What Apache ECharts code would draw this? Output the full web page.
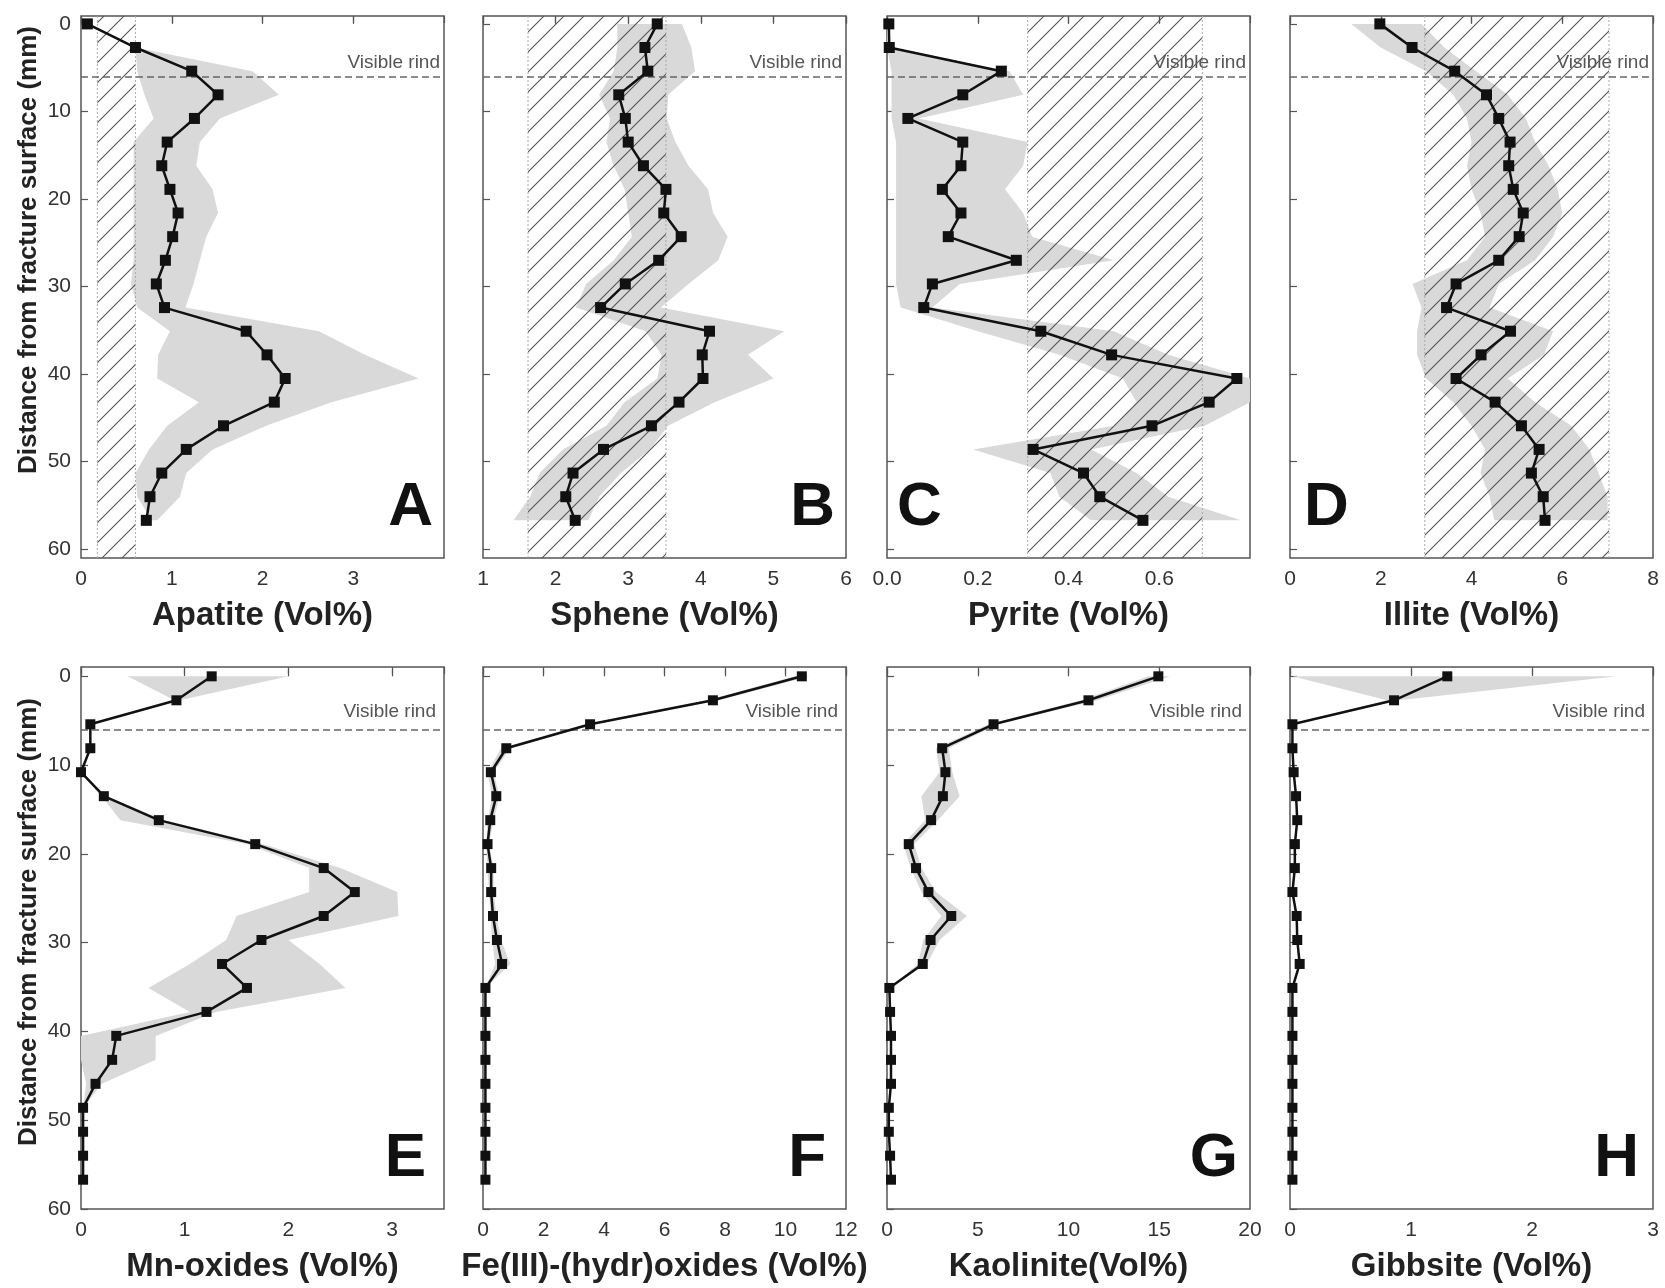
<!DOCTYPE html>
<html><head><meta charset="utf-8">
<script src="https://cdn.jsdelivr.net/npm/echarts@6/dist/echarts.min.js"></script>
<style>html,body{margin:0;padding:0;background:#fff}#c{width:1665px;height:1288px}</style>
</head><body><div id="c"></div>
<script>
// ---------------- DATA ----------------
const depth = [0, 2.7, 5.4, 8.1, 10.8, 13.5, 16.2, 18.9, 21.6, 24.3, 27, 29.7, 32.4, 35.1, 37.8, 40.5, 43.2, 45.9, 48.6, 51.3, 54, 56.7];
const yTicks = [0, 10, 20, 30, 40, 50, 60];
const rindDepth = 6;

const apatite   = [0.07, 0.60, 1.22, 1.51, 1.25, 0.95, 0.89, 0.98, 1.07, 1.01, 0.93, 0.83, 0.92, 1.82, 2.05, 2.25, 2.13, 1.57, 1.16, 0.89, 0.76, 0.72];
const apatiteLo = [0.07, 0.60, 0.62, 0.70, 0.80, 0.58, 0.58, 0.58, 0.58, 0.58, 0.58, 0.55, 0.62, 0.98, 0.85, 0.84, 1.30, 0.95, 0.75, 0.60, 0.62, 0.78];
const apatiteHi = [0.07, 0.60, 1.89, 2.18, 1.53, 1.31, 1.27, 1.45, 1.51, 1.38, 1.31, 1.24, 1.15, 2.62, 3.13, 3.72, 2.76, 2.04, 1.45, 1.16, 1.09, 0.84];
const hatchA = [0.18, 0.60];

const sphene   = [3.40, 3.23, 3.27, 2.87, 2.96, 3.00, 3.21, 3.52, 3.49, 3.73, 3.42, 2.96, 2.62, 4.12, 4.02, 4.03, 3.70, 3.32, 2.66, 2.24, 2.14, 2.27];
const spheneLo = [2.85, 2.85, 2.80, 2.60, 2.75, 2.70, 2.80, 2.95, 3.00, 3.05, 2.80, 2.42, 2.28, 3.24, 3.46, 3.40, 2.95, 2.70, 2.10, 1.78, 1.65, 1.42];
const spheneHi = [3.74, 3.87, 3.92, 3.55, 3.53, 3.65, 3.83, 4.10, 4.17, 4.37, 4.24, 3.83, 3.45, 5.15, 4.65, 5.00, 4.19, 3.55, 3.30, 2.90, 2.60, 2.45];
const hatchB = [1.62, 3.52];

const pyrite   = [0.004, 0.005, 0.252, 0.167, 0.046, 0.167, 0.163, 0.122, 0.163, 0.135, 0.285, 0.100, 0.081, 0.339, 0.495, 0.771, 0.710, 0.584, 0.322, 0.433, 0.469, 0.564];
const pyriteLo = [0.000, 0.000, 0.010, 0.010, 0.010, 0.020, 0.020, 0.020, 0.020, 0.020, 0.020, 0.020, 0.030, 0.200, 0.380, 0.520, 0.550, 0.500, 0.190, 0.360, 0.380, 0.450];
const pyriteHi = [0.005, 0.005, 0.270, 0.300, 0.070, 0.310, 0.300, 0.260, 0.300, 0.320, 0.500, 0.160, 0.100, 0.500, 0.620, 0.800, 0.800, 0.700, 0.450, 0.550, 0.620, 0.780];
const hatchC = [0.31, 0.695];

const illite   = [1.98, 2.69, 3.63, 4.33, 4.60, 4.85, 4.82, 4.92, 5.14, 5.05, 4.60, 3.66, 3.45, 4.86, 4.21, 3.66, 4.52, 5.10, 5.49, 5.32, 5.58, 5.62];
const illiteLo = [1.35, 2.00, 3.00, 3.60, 3.90, 4.00, 3.90, 4.00, 4.20, 4.30, 3.90, 2.70, 2.90, 2.80, 2.80, 3.00, 3.60, 4.00, 4.30, 4.20, 4.40, 4.50];
const illiteHi = [2.90, 3.40, 4.10, 4.80, 5.20, 5.40, 5.70, 5.90, 6.00, 5.80, 5.40, 4.60, 4.40, 5.80, 5.60, 4.80, 5.40, 6.20, 6.60, 6.80, 7.00, 7.00];
const hatchD = [2.97, 7.03];

const mnOx   = [1.26, 0.92, 0.09, 0.09, 0.00, 0.22, 0.75, 1.68, 2.34, 2.64, 2.34, 1.74, 1.36, 1.60, 1.21, 0.34, 0.30, 0.14, 0.02, 0.02, 0.02, 0.02];
const mnOxLo = [0.45, 0.90, 0.09, 0.09, 0.00, 0.20, 0.38, 1.60, 2.20, 2.20, 1.50, 1.40, 1.05, 0.65, 1.05, 0.00, 0.00, 0.05, 0.02, 0.02, 0.02, 0.02];
const mnOxHi = [2.00, 0.95, 0.09, 0.09, 0.00, 0.25, 0.80, 1.75, 2.50, 3.05, 3.06, 2.00, 2.30, 2.55, 1.30, 0.72, 0.72, 0.20, 0.02, 0.02, 0.02, 0.02];

const feOx   = [10.54, 7.60, 3.54, 0.77, 0.26, 0.44, 0.24, 0.15, 0.27, 0.27, 0.33, 0.46, 0.63, 0.08, 0.08, 0.08, 0.08, 0.08, 0.08, 0.08, 0.08, 0.08];
const feOxLo = [10.30, 7.40, 3.40, 0.60, 0.15, 0.30, 0.15, 0.10, 0.15, 0.20, 0.25, 0.30, 0.40, 0.08, 0.08, 0.08, 0.08, 0.08, 0.08, 0.08, 0.08, 0.08];
const feOxHi = [10.80, 7.80, 3.70, 0.90, 0.35, 0.55, 0.35, 0.20, 0.35, 0.35, 0.45, 0.60, 0.90, 0.08, 0.08, 0.08, 0.08, 0.08, 0.08, 0.08, 0.08, 0.08];

const kaolinite   = [14.95, 11.10, 5.87, 3.04, 3.22, 3.08, 2.43, 1.20, 1.60, 2.28, 3.54, 2.40, 1.97, 0.13, 0.17, 0.22, 0.22, 0.22, 0.10, 0.10, 0.17, 0.22];
const kaoliniteLo = [14.40, 10.70, 5.60, 2.70, 2.90, 1.90, 2.10, 0.90, 1.30, 1.90, 3.00, 2.00, 1.70, 0.13, 0.17, 0.22, 0.22, 0.22, 0.10, 0.10, 0.17, 0.22];
const kaoliniteHi = [15.60, 11.60, 6.10, 3.40, 3.60, 4.00, 2.80, 1.50, 1.90, 2.70, 4.40, 2.90, 2.20, 0.13, 0.17, 0.22, 0.22, 0.22, 0.10, 0.10, 0.17, 0.22];

const gibbsite   = [1.30, 0.86, 0.02, 0.02, 0.03, 0.05, 0.06, 0.04, 0.04, 0.02, 0.055, 0.06, 0.08, 0.02, 0.02, 0.02, 0.02, 0.02, 0.02, 0.02, 0.02, 0.02];
const gibbsiteLo = [0.02, 0.80, 0.02, 0.02, 0.03, 0.05, 0.06, 0.04, 0.04, 0.02, 0.055, 0.06, 0.08, 0.02, 0.02, 0.02, 0.02, 0.02, 0.02, 0.02, 0.02, 0.02];
const gibbsiteHi = [2.70, 0.90, 0.02, 0.02, 0.03, 0.05, 0.06, 0.04, 0.04, 0.02, 0.055, 0.06, 0.08, 0.02, 0.02, 0.02, 0.02, 0.02, 0.02, 0.02, 0.02, 0.02];

const titles = ['Apatite (Vol%)', 'Sphene (Vol%)', 'Pyrite (Vol%)', 'Illite (Vol%)',
                'Mn-oxides (Vol%)', 'Fe(III)-(hydr)oxides (Vol%)', 'Kaolinite(Vol%)', 'Gibbsite (Vol%)'];
const letters = ['A', 'B', 'C', 'D', 'E', 'F', 'G', 'H'];
const yTitle = 'Distance from fracture surface (mm)';

// ---------------- LAYOUT / STYLE ----------------
const FONT = '"Liberation Sans", Arial, sans-serif';
const colLeft = [81, 483, 887, 1290];
const gridW = 363, gridH = 542;
const rowTop = [16, 667];
const rowYMin = [-0.9, -1.05], rowYMax = [61, 60];

const panels = [
  {v: apatite,   lo: apatiteLo,   hi: apatiteHi,   min: 0, max: 4,   step: 1,   hatch: hatchA, hideMax: true,  side: 'right', inset: 11},
  {v: sphene,    lo: spheneLo,    hi: spheneHi,    min: 1, max: 6,   step: 1,   hatch: hatchB, hideMax: false, side: 'right', inset: 11},
  {v: pyrite,    lo: pyriteLo,    hi: pyriteHi,    min: 0, max: 0.8, step: 0.2, hatch: hatchC, hideMax: true,  side: 'left',  inset: 10, fixed: 1},
  {v: illite,    lo: illiteLo,    hi: illiteHi,    min: 0, max: 8,   step: 2,   hatch: hatchD, hideMax: false, side: 'left',  inset: 14},
  {v: mnOx,      lo: mnOxLo,      hi: mnOxHi,      min: 0, max: 3.5, step: 1,   hatch: null,   hideMax: true,  side: 'right', inset: 18},
  {v: feOx,      lo: feOxLo,      hi: feOxHi,      min: 0, max: 12,  step: 2,   hatch: null,   hideMax: false, side: 'right', inset: 20},
  {v: kaolinite, lo: kaoliniteLo, hi: kaoliniteHi, min: 0, max: 20,  step: 5,   hatch: null,   hideMax: false, side: 'right', inset: 12},
  {v: gibbsite,  lo: gibbsiteLo,  hi: gibbsiteHi,  min: 0, max: 3,   step: 1,   hatch: null,   hideMax: false, side: 'right', inset: 14}
];

// hatch pattern
const pc = document.createElement('canvas');
pc.width = 20; pc.height = 20;
const g = pc.getContext('2d');
g.strokeStyle = '#555'; g.lineWidth = 1.1;
g.beginPath();
g.moveTo(0, 20); g.lineTo(20, 0);
g.moveTo(-5, 5); g.lineTo(5, -5);
g.moveTo(15, 25); g.lineTo(25, 15);
g.stroke();
const hatchPattern = {image: pc, repeat: 'repeat'};

const grids = [], xAxes = [], yAxes = [], series = [], graphics = [];

panels.forEach((p, i) => {
  const row = i < 4 ? 0 : 1, col = i % 4;
  grids.push({left: colLeft[col], top: rowTop[row], width: gridW, height: gridH,
    show: true, borderColor: '#555', borderWidth: 1.5, backgroundColor: 'transparent'});
  const tick = {inside: true, length: 7, lineStyle: {color: '#555', width: 1.2}};
  xAxes.push({
    gridIndex: i, type: 'value', min: p.min, max: p.max, interval: p.step, position: 'bottom',
    axisLine: {show: false}, axisTick: tick, splitLine: {show: false},
    axisLabel: {fontSize: 21, color: '#333', fontFamily: FONT, margin: 11, showMaxLabel: !p.hideMax, showMinLabel: true,
      formatter: p.fixed ? (v => v.toFixed(p.fixed)) : (v => String(v))},
    name: titles[i], nameLocation: 'middle', nameGap: 41,
    nameTextStyle: {fontSize: 33, fontWeight: 'bold', color: '#222', fontFamily: FONT}
  });
  xAxes.push({
    gridIndex: i, type: 'value', min: p.min, max: p.max, interval: p.step, position: 'top',
    axisLine: {show: false}, axisTick: tick, axisLabel: {show: false}, splitLine: {show: false}
  });
  yAxes.push({
    gridIndex: i, type: 'value', inverse: true, min: rowYMin[row], max: rowYMax[row],
    axisLine: {show: false},
    axisTick: {inside: true, length: 7, lineStyle: {color: '#555', width: 1.2}, customValues: yTicks},
    axisLabel: {show: col === 0, customValues: yTicks, fontSize: 21, color: '#333', fontFamily: FONT, margin: 10},
    splitLine: {show: false}
  });
  const xi = 2 * i;
  // grey range band
  series.push({
    type: 'custom', xAxisIndex: xi, yAxisIndex: i, z: 1, silent: true, clip: true,
    data: [[p.lo[0], depth[0]]], encode: {x: 0, y: 1},
    renderItem: (params, api) => {
      const pts = [];
      for (let k = 0; k < depth.length; k++) pts.push(api.coord([p.hi[k], depth[k]]));
      for (let k = depth.length - 1; k >= 0; k--) pts.push(api.coord([p.lo[k], depth[k]]));
      return {type: 'polygon', shape: {points: pts}, style: {fill: '#d9d9d9', stroke: 'none'}};
    }
  });
  // hatched range
  if (p.hatch) {
    const h = p.hatch;
    series.push({
      type: 'custom', xAxisIndex: xi, yAxisIndex: i, z: 2, silent: true,
      data: [[h[0], 0]], encode: {x: 0, y: 1},
      renderItem: (params, api) => {
        const cs = params.coordSys;
        const a = api.coord([h[0], 0])[0], b = api.coord([h[1], 0])[0];
        return {type: 'group', children: [
          {type: 'rect', shape: {x: a, y: cs.y, width: b - a, height: cs.height},
           style: {fill: hatchPattern, stroke: 'none'}},
          {type: 'line', shape: {x1: a, y1: cs.y, x2: a, y2: cs.y + cs.height},
           style: {stroke: '#aaa', lineWidth: 1, lineDash: [2, 2]}},
          {type: 'line', shape: {x1: b, y1: cs.y, x2: b, y2: cs.y + cs.height},
           style: {stroke: '#aaa', lineWidth: 1, lineDash: [2, 2]}}
        ]};
      }
    });
  }
  // profile line
  series.push({
    type: 'line', xAxisIndex: xi, yAxisIndex: i, z: 5,
    data: p.v.map((v, k) => [v, depth[k]]),
    symbol: 'rect', symbolSize: row === 0 ? 11 : 10, showAllSymbol: true,
    lineStyle: {color: '#111', width: 2.5}, itemStyle: {color: '#111'},
    markLine: {
      silent: true, symbol: ['none', 'none'], animation: false,
      lineStyle: {type: [7, 4], color: '#666', width: 1.6},
      label: {show: true, position: 'insideEndTop', formatter: 'Visible rind', fontSize: 19,
              color: '#555', fontFamily: FONT, distance: row === 0 ? 4 : 8},
      data: [{yAxis: rindDepth}]
    }
  });
  // panel letter
  const x = p.side === 'right' ? colLeft[col] + gridW - p.inset : colLeft[col] + p.inset;
  graphics.push({type: 'text', x: x, y: rowTop[row] + gridH - 50, z: 10,
    style: {text: letters[i], fill: '#111', fontSize: 62, fontWeight: 'bold', fontFamily: FONT,
            align: p.side, textAlign: p.side, verticalAlign: 'middle', textVerticalAlign: 'middle'}});
});

[250, 922].forEach(cy => {
  graphics.push({type: 'text', x: 29, y: cy, rotation: Math.PI / 2, z: 10,
    style: {text: yTitle, fill: '#222', fontSize: 26, fontWeight: 'bold', fontFamily: FONT,
            align: 'center', textAlign: 'center', verticalAlign: 'middle', textVerticalAlign: 'middle'}});
});

const chart = echarts.init(document.getElementById('c'));
chart.setOption({
  backgroundColor: '#fff',
  animation: false,
  grid: grids, xAxis: xAxes, yAxis: yAxes, series: series, graphic: graphics
});
</script></body></html>
